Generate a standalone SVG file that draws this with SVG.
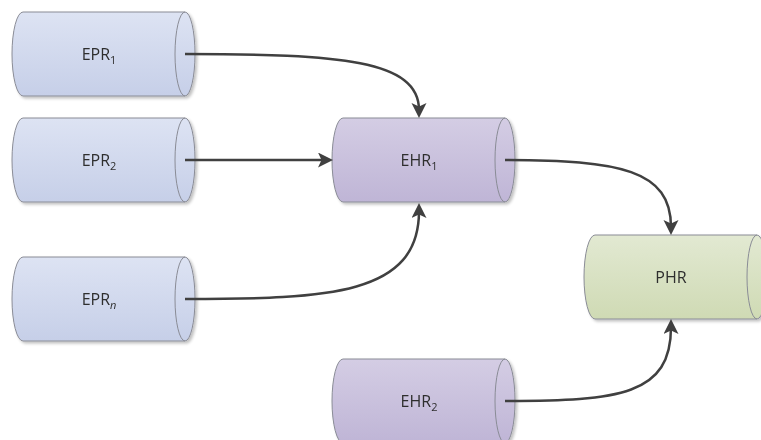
<svg xmlns="http://www.w3.org/2000/svg" width="761" height="440" viewBox="0 0 761 440">
<style>
.cyl{stroke:#8a8c96;stroke-width:1}
.cap{stroke:#8a8c96;stroke-width:1}
.lbl{font-family:"Open Sans","Liberation Sans",sans-serif;font-size:16px;fill:#2e2e2e;text-anchor:middle}
.sub{font-size:11px}
.conn{fill:none;stroke:#404040;stroke-width:2.5}
</style>
<defs>
<linearGradient id="gEPR" x1="0" y1="0" x2="0" y2="1"><stop offset="0" stop-color="#dde3f3"/><stop offset="1" stop-color="#c6cfe8"/></linearGradient>
<linearGradient id="gEHR" x1="0" y1="0" x2="0" y2="1"><stop offset="0" stop-color="#d4cde4"/><stop offset="1" stop-color="#bfb5d6"/></linearGradient>
<linearGradient id="gPHR" x1="0" y1="0" x2="0" y2="1"><stop offset="0" stop-color="#e2e9d2"/><stop offset="1" stop-color="#cfdab4"/></linearGradient>
<filter id="sh" x="-10%" y="-10%" width="130%" height="130%"><feGaussianBlur in="SourceAlpha" stdDeviation="1.5"/><feOffset dx="2" dy="2" result="b"/><feComponentTransfer><feFuncA type="linear" slope="0.25"/></feComponentTransfer><feMerge><feMergeNode/><feMergeNode in="SourceGraphic"/></feMerge></filter>
<marker id="arr" markerUnits="userSpaceOnUse" markerWidth="16" markerHeight="16" viewBox="0 0 16 16" refX="7" refY="7.5" orient="auto"><path d="M0,0 L15,7.5 L0,15 L3.5,7.5 z" fill="#404040"/></marker>
</defs>

<g id="EPR1" filter="url(#sh)">
<path class="cyl" fill="url(#gEPR)" d="M23,12 L185,12 A10,42 0 0 1 185,96 L23,96 A11,42 0 0 1 23,12 Z"/>
<path class="cap" fill="none" d="M185,12 A10,42 0 0 0 185,96"/>
<text class="lbl" x="99" y="60">EPR<tspan class="sub" dy="4">1</tspan></text>
</g>
<g id="EPR2" filter="url(#sh)">
<path class="cyl" fill="url(#gEPR)" d="M23,118 L185,118 A10,42 0 0 1 185,202 L23,202 A11,42 0 0 1 23,118 Z"/>
<path class="cap" fill="none" d="M185,118 A10,42 0 0 0 185,202"/>
<text class="lbl" x="99" y="166">EPR<tspan class="sub" dy="4">2</tspan></text>
</g>
<g id="EPRn" filter="url(#sh)">
<path class="cyl" fill="url(#gEPR)" d="M23,257 L185,257 A10,42 0 0 1 185,341 L23,341 A11,42 0 0 1 23,257 Z"/>
<path class="cap" fill="none" d="M185,257 A10,42 0 0 0 185,341"/>
<text class="lbl" x="99" y="305">EPR<tspan class="sub" dy="4" font-style="italic">n</tspan></text>
</g>
<g id="EHR1" filter="url(#sh)">
<path class="cyl" fill="url(#gEHR)" d="M343,118 L505,118 A10,42 0 0 1 505,202 L343,202 A11,42 0 0 1 343,118 Z"/>
<path class="cap" fill="none" d="M505,118 A10,42 0 0 0 505,202"/>
<text class="lbl" x="419" y="166">EHR<tspan class="sub" dy="4">1</tspan></text>
</g>
<g id="EHR2" filter="url(#sh)">
<path class="cyl" fill="url(#gEHR)" d="M343,359 L505,359 A10,42 0 0 1 505,443 L343,443 A11,42 0 0 1 343,359 Z"/>
<path class="cap" fill="none" d="M505,359 A10,42 0 0 0 505,443"/>
<text class="lbl" x="419" y="407">EHR<tspan class="sub" dy="4">2</tspan></text>
</g>
<g id="PHR" filter="url(#sh)">
<path class="cyl" fill="url(#gPHR)" d="M595,235 L757,235 A10,42 0 0 1 757,319 L595,319 A11,42 0 0 1 595,235 Z"/>
<path class="cap" fill="none" d="M757,235 A10,42 0 0 0 757,319"/>
<text class="lbl" x="671" y="283">PHR</text>
</g>

<g id="connectors">
<path class="conn" marker-end="url(#arr)" d="M185,54 C340,54 419,60 419,110"/>
<path class="conn" marker-end="url(#arr)" d="M185,160 L325,160"/>
<path class="conn" marker-end="url(#arr)" d="M185,299 C330,299 419,295 419,211"/>
<path class="conn" marker-end="url(#arr)" d="M505,160 C620,160 671,170 671,227"/>
<path class="conn" marker-end="url(#arr)" d="M505,401 C620,401 671,395 671,327"/>
</g>
</svg>
